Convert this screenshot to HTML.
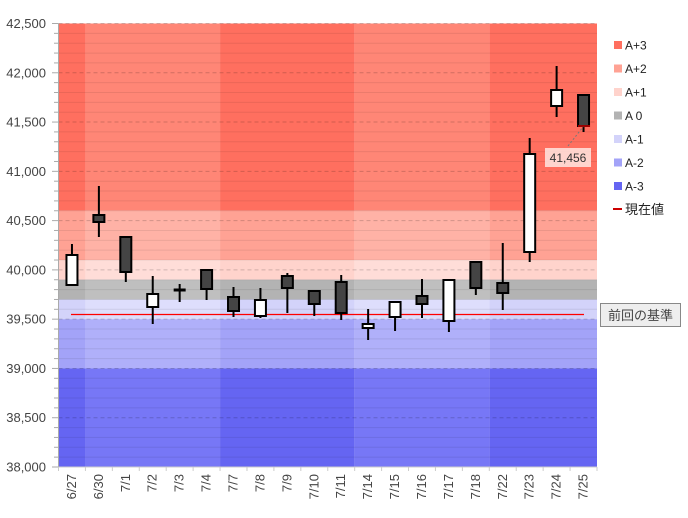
<!DOCTYPE html>
<html><head><meta charset="utf-8"><style>
html,body{margin:0;padding:0;background:#fff;width:688px;height:518px;overflow:hidden}
svg{display:block;font-family:"Liberation Sans","Noto Sans CJK JP",sans-serif}
</style></head><body>
<svg id="c" width="688" height="518" viewBox="0 0 688 518" xmlns="http://www.w3.org/2000/svg"></svg>
<script>
const s=document.getElementById('c');let h='';
const L=58.5,R=597,T=23.5,B=467;
const y=v=>T+(42500-v)*(B-T)/4500;
const cw=(R-L)/20;
const weeks=[[0,1,1],[1,6,0],[6,11,1],[11,16,0],[16,20,1]];
const bands=[[42500,40600,'#ff6f5f','#ff8676'],[40600,40100,'#ffa294','#ffb2a6'],[40100,39900,'#ffd3cc','#ffddd8'],[39900,39700,'#b3b3b3','#bfbfbf'],[39700,39500,'#d3d3fa','#dedefc'],[39500,39000,'#a3a3f8','#b0b0fa'],[39000,38000,'#6565f2','#7777f6']];
for(const b of bands)for(const w of weeks){h+=`<rect x="${L+w[0]*cw}" y="${y(b[0])}" width="${(w[1]-w[0])*cw}" height="${y(b[1])-y(b[0])}" fill="${w[2]?b[2]:b[3]}"/>`;}
for(let v=38100;v<42500;v+=100){if(v%500)h+=`<line x1="${L}" x2="${R}" y1="${y(v)}" y2="${y(v)}" stroke="rgba(0,0,0,0.08)"/>`;}
for(let v=38500;v<=42500;v+=500)h+=`<line x1="${L}" x2="${R}" y1="${y(v)}" y2="${y(v)}" stroke="rgba(0,0,0,0.18)" stroke-dasharray="4,3"/>`;
h+=`<line x1="${L}" x2="${L}" y1="${T}" y2="${B}" stroke="#aaa"/><line x1="${L}" x2="${R}" y1="${B}" y2="${B}" stroke="#ccc"/>`;
for(let v=38000;v<=42500;v+=100){const m=v%500==0;h+=`<line x1="${m?52:54}" x2="${L}" y1="${y(v)}" y2="${y(v)}" stroke="#aaa"/>`;if(m)h+=`<text x="46" y="${y(v)+4.5}" font-size="13" fill="#444" text-anchor="end">${(v/1000|0)+','+String(v%1000).padStart(3,'0')}</text>`;}
const d=['6/27','6/30','7/1','7/2','7/3','7/4','7/7','7/8','7/9','7/10','7/11','7/14','7/15','7/16','7/17','7/18','7/22','7/23','7/24','7/25'];
for(let i=0;i<=20;i++)h+=`<line x1="${L+i*cw}" x2="${L+i*cw}" y1="${B}" y2="${B+4}" stroke="#ccc"/>`;
d.forEach((t,i)=>{const cx=L+(i+.5)*cw+4;h+=`<text transform="translate(${cx},474) rotate(-90)" font-size="13" fill="#444" text-anchor="end">${t}</text>`;});
h+=`<line x1="71" x2="584" y1="314.5" y2="314.5" stroke="#f00" stroke-width="1.3"/>`;
const c=[[1,255,285,244,285],[0,215,222,186,237],[0,237,272,237,282],[1,294,307,276,324],[2,290,291,284,302],[0,270,289,269,300],[0,297,311,287,317],[1,300,316,288,318],[0,276,288,273,313],[0,291,304,291,316],[0,282,313,275,320],[1,324,328,309,340],[1,302,317,302,331],[0,296,304,279,318],[1,280,321,280,332],[0,262,288,262,295],[0,283,293,243,310],[1,154,252,138,262],[1,90,106,66,117],[0,95,126,95,132]];
c.forEach((k,i)=>{const cx=L+(i+.5)*cw;h+=`<line x1="${cx}" x2="${cx}" y1="${k[3]}" y2="${k[4]}" stroke="#000" stroke-width="2"/>`;if(k[0]==2)h+=`<line x1="${cx-6}" x2="${cx+6}" y1="${k[1]}" y2="${k[1]}" stroke="#000" stroke-width="3"/>`;else h+=`<rect x="${cx-5.5}" y="${k[1]}" width="11" height="${k[2]-k[1]}" fill="${k[0]?'#fff':'#444'}" stroke="#000" stroke-width="2"/>`;});
h+=`<line x1="578" x2="590" y1="126" y2="126" stroke="#c00" stroke-width="1.5"/>`;
h+=`<line x1="568" y1="146" x2="583" y2="127" stroke="#777" stroke-dasharray="2,2"/>`;
h+=`<rect x="545" y="148" width="46" height="19" fill="rgba(255,230,225,0.85)"/><text x="568" y="162" font-size="12" fill="#333" text-anchor="middle">41,456</text>`;
const lg=[['A+3','#ff6f5f'],['A+2','#ffa294'],['A+1','#ffd3cc'],['A 0','#b3b3b3'],['A-1','#d3d3fa'],['A-2','#a3a3f8'],['A-3','#6565f2']];
lg.forEach((l,i)=>{const yy=45+i*23.5;h+=`<rect x="614" y="${yy-4}" width="8" height="8" fill="${l[1]}"/><text x="625" y="${yy+4.5}" font-size="12" fill="#222">${l[0]}</text>`;});
h+=`<line x1="613" x2="622" y1="209" y2="209" stroke="#c00" stroke-width="2"/><text x="625" y="214" font-size="13" fill="#222">現在値</text>`;
h+=`<rect x="600.5" y="303.5" width="80" height="23" fill="#eee" stroke="#888"/><text x="640.5" y="320" font-size="13" fill="#444" text-anchor="middle">前回の基準</text>`;
s.innerHTML=h;
</script>
</body></html>
